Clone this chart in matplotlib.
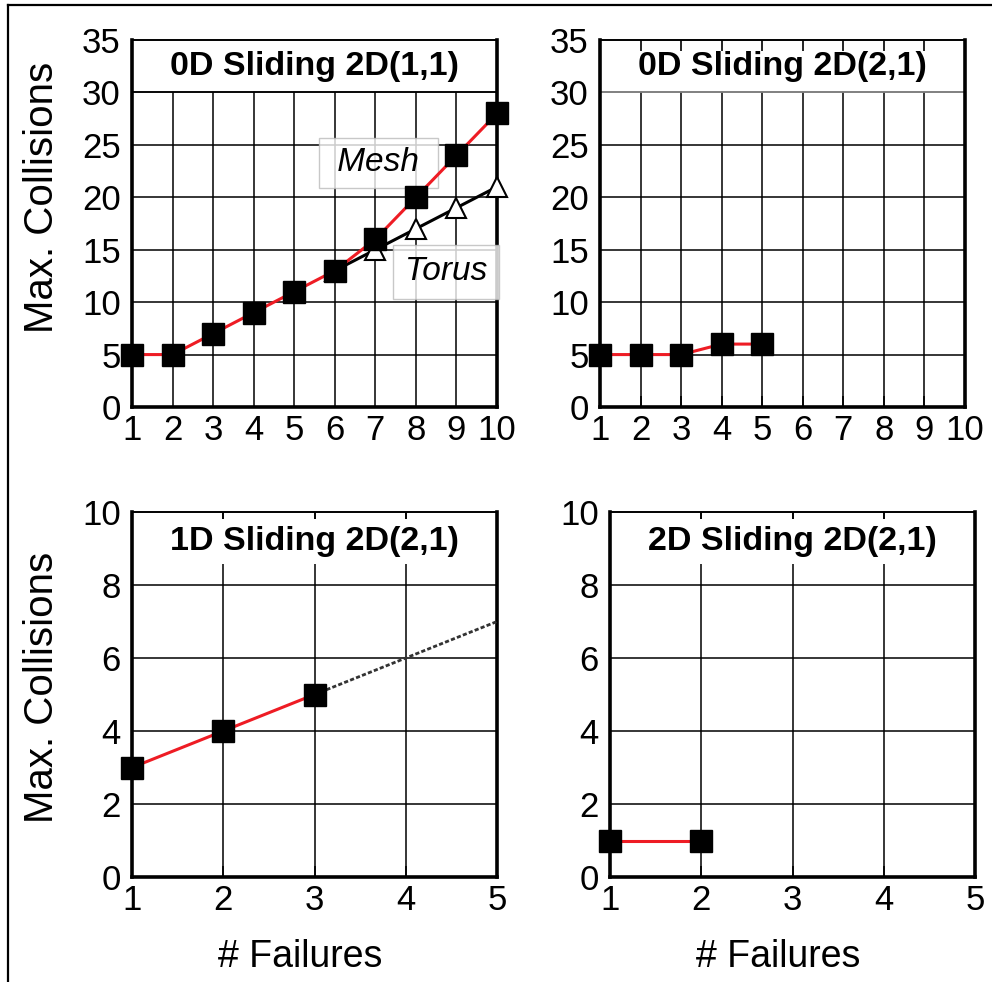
import matplotlib
matplotlib.use('Agg')
import matplotlib.pyplot as plt
from matplotlib.lines import Line2D

plt.rcParams['font.family'] = ['Liberation Sans', 'DejaVu Sans']

# 0D Sliding 2D(1,1)
fail_10 = [1, 2, 3, 4, 5, 6, 7, 8, 9, 10]
mesh_0d_11 = [5, 5, 7, 9, 11, 13, 16, 20, 24, 28]
torus_x = [6, 7, 8, 9, 10]
torus_0d_11 = [13, 15, 17, 19, 21]
# 0D Sliding 2D(2,1)
fail_0d_21 = [1, 2, 3, 4, 5]
mesh_0d_21 = [5, 5, 5, 6, 6]
# 1D Sliding 2D(2,1)
fail_1d_21 = [1, 2, 3]
mesh_1d_21 = [3, 4, 5]
ext_x = [3, 4, 5]
ext_1d_21 = [5, 6, 7]
# 2D Sliding 2D(2,1)
fail_2d_21 = [1, 2]
mesh_2d_21 = [1, 1]

yticks_top = [0, 5, 10, 15, 20, 25, 30, 35]
yticks_bot = [0, 2, 4, 6, 8, 10]
xticks_top = list(range(1, 11))
xticks_bot = [1, 2, 3, 4, 5]

RED = '#ee1c24'

fig = plt.figure(figsize=(9.92, 9.82), dpi=100)

# frame lines of the original page
fig.add_artist(Line2D([8 / 992, 1], [1 - 5 / 982, 1 - 5 / 982], color='black', lw=1.6))
fig.add_artist(Line2D([8 / 992, 8 / 992], [0, 1 - 5 / 982], color='black', lw=1.6))


def setup(ax, xt, yt, title, band, top_ticks, line30='black'):
    ax.set_xlim(xt[0], xt[-1])
    ax.set_ylim(yt[0], yt[-1])
    ax.set_xticks(xt)
    ax.set_yticks(yt)
    ax.tick_params(labelsize=25, length=0, pad=5)
    ax.tick_params(axis='y', pad=8)
    if top_ticks:
        ax.tick_params(axis='x', top=True, direction='in', length=8, width=1.2)
    for s in ['left', 'bottom', 'right']:
        ax.spines[s].set_linewidth(2.6)
    ax.spines['top'].set_linewidth(1.4)
    # grid
    gtop = yt[-2] if band else yt[-1]
    ax.vlines(xt[1:-1], yt[0], gtop, color='black', lw=1.1, zorder=1)
    ax.hlines(yt[1:-1], xt[0], xt[-1], color='black', lw=1.1, zorder=1)
    if band:
        ax.hlines([yt[-2]], xt[0], xt[-1], color=line30, lw=1.1, zorder=1)
        ax.text((xt[0] + xt[-1]) / 2, (yt[-1] + yt[-2]) / 2, title,
                ha='center', va='center', fontsize=24.5, fontweight='bold')
    else:
        ax.text((xt[0] + xt[-1]) / 2, yt[-1] - 0.4 * (yt[1] - yt[0]), title,
                ha='center', va='center', fontsize=24.5, fontweight='bold', zorder=3,
                bbox=dict(boxstyle='square,pad=0.2', fc='white', ec='none'))


W = 0.368
ax1 = fig.add_axes([132 / 992, 1 - 407 / 982, W, 367 / 982])
ax2 = fig.add_axes([600 / 992, 1 - 407 / 982, W, 367 / 982])
ax3 = fig.add_axes([132 / 992, 1 - 877 / 982, W, 365 / 982])
ax4 = fig.add_axes([610 / 992, 1 - 877 / 982, W, 365 / 982])

setup(ax1, xticks_top, yticks_top, '0D Sliding 2D(1,1)', True, False)
setup(ax2, xticks_top, yticks_top, '0D Sliding 2D(2,1)', True, True, line30='#999999')
setup(ax3, xticks_bot, yticks_bot, '1D Sliding 2D(2,1)', False, True)
setup(ax4, xticks_bot, yticks_bot, '2D Sliding 2D(2,1)', False, True)

sq = dict(marker='s', markersize=16, mfc='black', mec='black', clip_on=False)

ax1.plot(torus_x, torus_0d_11, color='black', lw=2.2, marker='^', markersize=15,
         mfc='white', mec='black', mew=1.5, zorder=4, clip_on=False)
ax1.plot(fail_10, mesh_0d_11, color=RED, lw=2.2, zorder=5, **sq)
ax1.text(7.07, 23.3, ' Mesh ', fontsize=24, style='italic', ha='center', va='center', zorder=3,
         bbox=dict(boxstyle='square,pad=0.28', fc='white', ec='#bbbbbb', alpha=0.8, lw=1))
ax1.text(8.74, 12.9, 'Torus', fontsize=24, style='italic', ha='center', va='center', zorder=3,
         bbox=dict(boxstyle='square,pad=0.35', fc='white', ec='#bbbbbb', alpha=0.8, lw=1))

ax2.plot(fail_0d_21, mesh_0d_21, color=RED, lw=2.2, zorder=5, **sq)

ax3.plot(ext_x, ext_1d_21, color='#333333', lw=2.0, ls=(0, (1.5, 0.8)), zorder=4)
ax3.plot(fail_1d_21, mesh_1d_21, color=RED, lw=2.2, zorder=5, **sq)

ax4.plot(fail_2d_21, mesh_2d_21, color=RED, lw=2.2, zorder=5, **sq)

for ax, yc in [(ax1, 0.57), (ax3, 0.52)]:
    ax.set_ylabel('Max. Collisions', fontsize=29)
    ax.yaxis.set_label_coords(-0.195, yc)
for ax in [ax3, ax4]:
    ax.set_xlabel('# Failures', fontsize=27)
    ax.xaxis.set_label_coords(0.46, -0.17)

fig.savefig('out.png', dpi=100)
